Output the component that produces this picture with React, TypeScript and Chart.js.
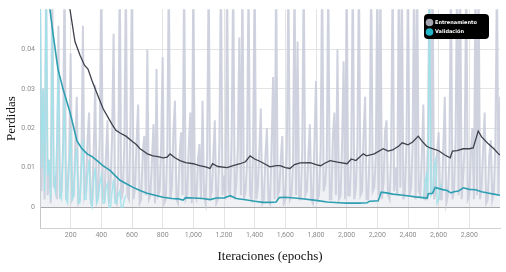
import React, { useEffect, useRef } from "react";
import { Chart, registerables } from "chart.js";

Chart.register(...registerables);

// ---- data ----
const rawTrainStep = 10; // epochs between raw training samples
const rawTrainLoss = [
  0.060, 0.004, 0.030, 0.002, 0.060, 0.003, 0.012, 0.001, 0.060, 0.005,
  0.008, 0.002, 0.046, 0.003, 0.004, 0.015, 0.060, 0.002, 0.006, 0.013,
  0.039, 0.002, 0.003, 0.016, 0.028, 0.001, 0.002, 0.012, 0.046, 0.003,
  0.005, 0.017, 0.024, 0.002, 0.001, 0.014, 0.031, 0.002, 0.004, 0.019,
  0.060, 0.003, 0.002, 0.013, 0.022, 0.001, 0.006, 0.018, 0.044, 0.002,
  0.001, 0.009, 0.060, 0.002, 0.004, 0.016, 0.058, 0.003, 0.002, 0.021,
  0.060, 0.002, 0.005, 0.017, 0.026, 0.001, 0.002, 0.014, 0.018, 0.003,
  0.040, 0.002, 0.003, 0.012, 0.021, 0.001, 0.035, 0.003, 0.004, 0.016,
  0.038, 0.001, 0.002, 0.015, 0.060, 0.002, 0.005, 0.019, 0.027, 0.002,
  0.001, 0.013, 0.019, 0.003, 0.060, 0.002, 0.003, 0.015, 0.024, 0.001,
  0.060, 0.003, 0.002, 0.012, 0.016, 0.002, 0.027, 0.003, 0.001, 0.014,
  0.060, 0.002, 0.004, 0.013, 0.022, 0.001, 0.002, 0.017, 0.060, 0.003,
  0.008, 0.002, 0.060, 0.004, 0.003, 0.018, 0.060, 0.002, 0.006, 0.015,
  0.043, 0.003, 0.060, 0.002, 0.004, 0.011, 0.060, 0.003, 0.002, 0.016,
  0.060, 0.002, 0.005, 0.014, 0.025, 0.001, 0.002, 0.013, 0.020, 0.002,
  0.001, 0.015, 0.033, 0.002, 0.060, 0.003, 0.004, 0.012, 0.018, 0.001,
  0.002, 0.016, 0.060, 0.002, 0.003, 0.011, 0.060, 0.003, 0.042, 0.002,
  0.002, 0.014, 0.060, 0.003, 0.004, 0.013, 0.021, 0.002, 0.001, 0.017,
  0.032, 0.002, 0.003, 0.015, 0.060, 0.004, 0.006, 0.012, 0.060, 0.002,
  0.002, 0.018, 0.024, 0.003, 0.040, 0.002, 0.003, 0.016, 0.037, 0.002,
  0.060, 0.003, 0.003, 0.014, 0.060, 0.002, 0.005, 0.016, 0.060, 0.003,
  0.004, 0.018, 0.028, 0.002, 0.002, 0.015, 0.060, 0.004, 0.005, 0.013,
  0.060, 0.003, 0.060, 0.002, 0.006, 0.019, 0.022, 0.003, 0.002, 0.014,
  0.060, 0.004, 0.010, 0.003, 0.060, 0.005, 0.060, 0.002, 0.004, 0.017,
  0.060, 0.003, 0.005, 0.016, 0.060, 0.002, 0.060, 0.004, 0.003, 0.013,
  0.026, 0.002, 0.002, 0.018, 0.060, 0.003, 0.060, 0.002, 0.004, 0.014,
  0.019, 0.002, 0.002, 0.015, 0.028, 0.001, 0.003, 0.012, 0.060, 0.002,
  0.004, 0.017, 0.060, 0.003, 0.060, 0.002, 0.008, 0.016, 0.060, 0.002,
  0.003, 0.014, 0.020, 0.002, 0.060, 0.003, 0.060, 0.002, 0.005, 0.015,
  0.024, 0.001, 0.002, 0.013, 0.017, 0.002, 0.004, 0.016, 0.060, 0.003,
  0.028,
];

const rawValEpochs = [
  0, 10, 20, 30, 40, 50, 60, 70, 80, 90,
  100, 110, 120, 130, 140, 150, 160, 170, 180, 190,
  200, 210, 220, 230, 240, 250, 260, 270, 280, 290,
  300, 310, 320, 330, 340, 350, 360, 370, 380, 390,
  400, 410, 420, 430, 440, 450, 460, 470, 480, 490,
  500, 510, 520, 530, 540, 550, 560, 570,
  2500, 2510, 2520, 2530, 2540, 2550, 2560, 2570, 2580, 2590, 2600, 2610, 2620,
];
const rawValLoss = [
  0.060, 0.010, 0.030, 0.004, 0.060, 0.008, 0.012, 0.002, 0.045, 0.006,
  0.004, 0.018, 0.036, 0.003, 0.002, 0.014, 0.028, 0.002, 0.001, 0.011,
  0.020, 0.002, 0.003, 0.012, 0.015, 0.001, 0.001, 0.009, 0.017, 0.002,
  0.002, 0.008, 0.012, 0.001, 0.000, 0.007, 0.010, 0.001, 0.002, 0.006,
  0.008, 0.001, 0.001, 0.005, 0.006, 0.000, 0.000, 0.004, 0.007, 0.001,
  0.001, 0.003, 0.004, 0.000, 0.000, 0.002, 0.003, null,
  0.002, 0.006, 0.008, 0.002, 0.060, 0.003, 0.004, 0.010, 0.012, 0.001, 0.002, 0.005, 0.006,
];

const smoothTrainEpochs = [
  160, 196, 228, 261, 290, 313, 340, 370, 391, 411, 440, 470, 495, 522, 560,
  607, 630, 652, 672, 700, 737, 770, 803, 830, 848, 880, 913, 950, 1000, 1040,
  1080, 1109, 1125, 1160, 1220, 1260, 1305, 1340, 1370, 1400, 1440, 1500, 1540,
  1566, 1600, 1630, 1660, 1697, 1762, 1800, 1830, 1860, 1892, 1940, 2003, 2030,
  2060, 2108, 2130, 2180, 2238, 2270, 2300, 2340, 2362, 2400, 2430, 2467, 2490,
  2520, 2545, 2600, 2640, 2675, 2690, 2720, 2760, 2800, 2825, 2858, 2880, 2920,
  2960, 2990, 3000,
];
const smoothTrainLoss = [
  0.054, 0.050, 0.042, 0.0385, 0.036, 0.035, 0.032, 0.029, 0.027, 0.025, 0.023,
  0.021, 0.0195, 0.0188, 0.018, 0.0165, 0.0158, 0.0148, 0.0143, 0.0135, 0.013,
  0.0128, 0.0125, 0.0127, 0.0135, 0.0125, 0.0118, 0.0113, 0.011, 0.0105, 0.0102,
  0.0098, 0.011, 0.0103, 0.010, 0.0105, 0.011, 0.0115, 0.013, 0.0122, 0.0115,
  0.0102, 0.0105, 0.0105, 0.010, 0.0098, 0.0108, 0.0112, 0.0113, 0.0108, 0.0105,
  0.0112, 0.0118, 0.0114, 0.011, 0.0122, 0.0118, 0.0135, 0.013, 0.0135, 0.0148,
  0.0142, 0.0145, 0.0155, 0.0163, 0.0158, 0.0165, 0.018, 0.0168, 0.0155, 0.015,
  0.0143, 0.0132, 0.0125, 0.0142, 0.0143, 0.0148, 0.0148, 0.015, 0.0193, 0.0178,
  0.0162, 0.0148, 0.0135, 0.0132,
];

const smoothValEpochs = [
  50, 65, 85, 117, 150, 196, 241, 270, 307, 340, 372, 410, 457, 490, 522, 560,
  607, 652, 698, 750, 803, 860, 900, 933, 950, 1000, 1060, 1110, 1150, 1200,
  1240, 1280, 1350, 1400, 1455, 1500, 1540, 1560, 1600, 1697, 1800, 1873, 1950,
  2003, 2080, 2134, 2150, 2206, 2225, 2260, 2300, 2369, 2450, 2525, 2532, 2560,
  2577, 2620, 2655, 2680, 2700, 2730, 2760, 2800, 2840, 2880, 2920, 2960, 3000,
];
const smoothValLoss = [
  0.053, 0.050, 0.044, 0.035, 0.030, 0.024, 0.0168, 0.015, 0.0135, 0.0128,
  0.0118, 0.0105, 0.0093, 0.008, 0.0068, 0.006, 0.005, 0.0042, 0.0035, 0.003,
  0.0025, 0.0022, 0.0021, 0.0018, 0.0024, 0.0023, 0.0022, 0.0019, 0.0023,
  0.0023, 0.0029, 0.0022, 0.0018, 0.0015, 0.0012, 0.0012, 0.0013, 0.0024,
  0.0025, 0.0022, 0.0017, 0.0013, 0.0011, 0.0010, 0.0010, 0.0011, 0.0015,
  0.0016, 0.0038, 0.0036, 0.0033, 0.0030, 0.0026, 0.0023, 0.0034, 0.0035,
  0.0050, 0.0045, 0.0042, 0.0036, 0.0039, 0.0041, 0.0049, 0.0045, 0.0044,
  0.0039, 0.0036, 0.0033, 0.0030,
];

const xTicks = [200, 400, 600, 800, 1000, 1200, 1400, 1600, 1800, 2000, 2200, 2400, 2600, 2800];
const yTicks = [0, 0.01, 0.02, 0.03, 0.04];
const legendLabels = ["Entrenamiento", "Validación"];
const xTitle = "Iteraciones (epochs)";
const yTitle = "Perdidas";

const legendPlugin = {
  id: "boxLegend",
  afterDraw(chart: any) {
    const ctx = chart.ctx;
    ctx.save();
    const x = 424, y = 14, w = 65, h = 25, r = 4;
    ctx.fillStyle = "#000";
    ctx.beginPath();
    ctx.roundRect(x, y, w, h, r);
    ctx.fill();
    const colors = ["#a3a5b0", "#22b6c8"];
    legendLabels.forEach((label, i) => {
      const cy = 22.5 + i * 9.5;
      ctx.fillStyle = colors[i];
      ctx.beginPath();
      ctx.arc(429.5, cy, 3.8, 0, Math.PI * 2);
      ctx.fill();
      ctx.fillStyle = "#fff";
      ctx.font = "bold 5px 'DejaVu Sans', sans-serif";
      ctx.textBaseline = "middle";
      ctx.textAlign = "left";
      ctx.fillText(label, 435, cy);
    });
    ctx.restore();
  },
};

export default function App() {
  const ref = useRef<HTMLCanvasElement>(null);
  useEffect(() => {
    if (!ref.current) return;
    const rawTrain = rawTrainLoss.map((v, i) => ({ x: i * rawTrainStep, y: v }));
    const rawVal = rawValEpochs.map((e, i) => ({ x: e, y: rawValLoss[i] }));
    const smTrain = smoothTrainEpochs.map((e, i) => ({ x: e, y: smoothTrainLoss[i] }));
    const smVal = smoothValEpochs.map((e, i) => ({ x: e, y: smoothValLoss[i] }));
    const chart = new Chart(ref.current, {
      type: "line",
      data: {
        datasets: [
          {
            data: rawTrain,
            borderColor: "rgba(200,203,217,0.85)",
            backgroundColor: "rgba(205,208,221,0.3)",
            fill: "origin",
            borderWidth: 2,
            pointRadius: 0,
            order: 4,
          },
          { data: rawVal as any, borderColor: "rgba(160,226,234,0.9)", borderWidth: 1.4, pointRadius: 0, order: 3, spanGaps: false },
          { data: smTrain, borderColor: "#3f414c", borderWidth: 1.3, pointRadius: 0, order: 2 },
          { data: smVal, borderColor: "#2e9fb1", borderWidth: 1.6, pointRadius: 0, order: 1 },
        ],
      },
      options: {
        animation: false,
        responsive: false,
        parsing: false as any,
        layout: { padding: { left: 0, right: 6, top: 6, bottom: 0 } },
        plugins: { legend: { display: false }, tooltip: { enabled: false }, filler: { drawTime: "beforeDatasetsDraw" } as any },
        elements: { line: { tension: 0 } },
        scales: {
          x: {
            type: "linear",
            min: 0,
            max: 3000,
            afterBuildTicks: (s: any) => { s.ticks = xTicks.map((v) => ({ value: v })); },
            afterFit: (s: any) => { s.height = 44; },
            ticks: {
              padding: 3,
              font: { size: 7, family: "Roboto, 'DejaVu Sans', sans-serif" },
              color: "#8c8c8c",
              maxRotation: 0,
              callback: (v: any) => Number(v).toLocaleString("en-US"),
            },
            grid: { color: "#e4e4e4", drawTicks: false, lineWidth: 1 },
            border: { color: "#d0d0d0" },
            title: {
              display: true,
              text: xTitle,
              font: { size: 13, family: "'Liberation Serif', 'Times New Roman', serif" },
              color: "#111",
              padding: { top: 4, bottom: 8 },
            },
          },
          y: {
            min: -0.0053,
            max: 0.0502,
            afterBuildTicks: (s: any) => { s.ticks = yTicks.map((v) => ({ value: v })); },
            afterFit: (s: any) => { s.width = 40; },
            ticks: {
              padding: 5,
              font: { size: 7, family: "Roboto, 'DejaVu Sans', sans-serif" },
              color: "#8c8c8c",
              callback: (v: any) => (v === 0 ? "0" : Number(v).toFixed(2)),
            },
            grid: {
              drawTicks: false,
              color: (c: any) => (c.tick && c.tick.value === 0 ? "#a8a8a8" : "#e4e4e4"),
            },
            border: { color: "#c8c8c8" },
            title: {
              display: true,
              text: yTitle,
              font: { size: 13, family: "'Liberation Serif', 'Times New Roman', serif" },
              color: "#111",
              padding: { top: 4, bottom: 4 },
            },
          },
        },
      },
      plugins: [legendPlugin],
    });
    return () => chart.destroy();
  }, []);
  return (
    <div style={{ position: "fixed", left: 0, top: 0, width: 506, height: 272, background: "#fff" }}>
      <canvas ref={ref} width={506} height={272} style={{ width: 506, height: 272 }} />
    </div>
  );
}
